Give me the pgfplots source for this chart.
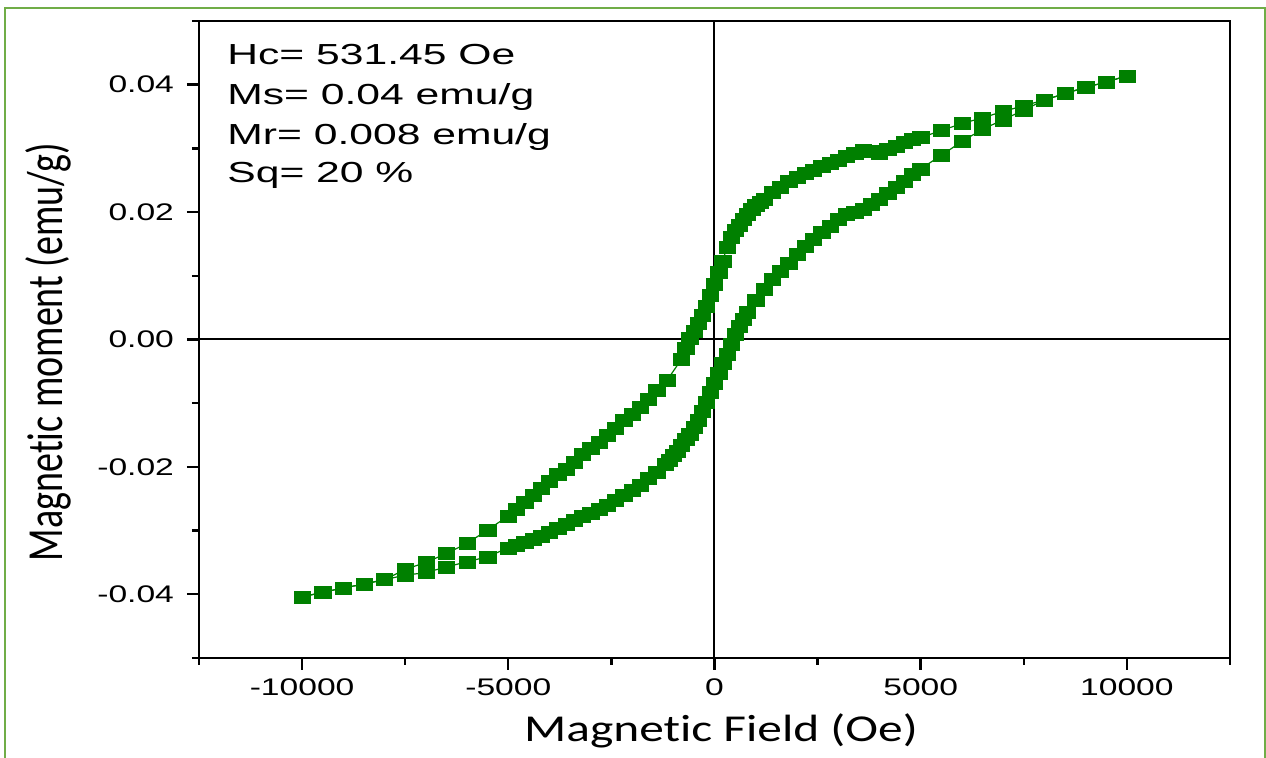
\documentclass[border=0pt]{standalone}
\usepackage{fontspec}
\setmainfont{Liberation Sans}
\newfontfamily\calibri[Ligatures={NoCommon}]{Carlito}
\usepackage{graphicx}
\usepackage{pgfplots}
\usepackage{pgfplotstable}
\pgfplotsset{compat=1.18}
\definecolor{mygreen}{RGB}{0,128,0}
\definecolor{framegreen}{RGB}{112,173,71}

\pgfplotstableread{
H M
10000 0.0414
9500 0.0404
9000 0.0396
8500 0.0386
8000 0.0376
7500 0.0367
7000 0.0358
6500 0.0348
6000 0.0339
5500 0.0328
5000 0.0317
4800 0.0314
4600 0.0309
4400 0.0303
4200 0.0298
4000 0.0293
3800 0.0295
3600 0.0297
3400 0.0293
3200 0.0288
3000 0.0282
2800 0.0277
2600 0.0272
2400 0.0266
2200 0.0261
2000 0.0255
1800 0.0248
1600 0.0239
1400 0.0231
1200 0.0221
1100 0.0216
1000 0.0211
900 0.0204
800 0.0197
700 0.0189
600 0.0180
500 0.0171
400 0.0160
300 0.0145
200 0.0123
100 0.0105
0 0.0087
-100 0.0069
-200 0.0052
-300 0.0038
-400 0.0026
-500 0.0013
-600 0.0002
-700 -0.0014
-800 -0.0031
-1150 -0.0064
-1400 -0.0080
-1600 -0.0093
-1800 -0.0106
-2000 -0.0117
-2200 -0.0127
-2400 -0.0139
-2600 -0.0151
-2800 -0.0162
-3000 -0.0171
-3200 -0.0180
-3400 -0.0192
-3600 -0.0203
-3800 -0.0212
-4000 -0.0222
-4200 -0.0233
-4400 -0.0244
-4600 -0.0255
-4800 -0.0266
-5000 -0.0277
-5500 -0.0299
-6000 -0.0320
-6500 -0.0336
-7000 -0.0350
-7500 -0.0361
-8000 -0.0377
-8500 -0.0384
-9000 -0.0390
-9500 -0.0397
-10000 -0.0404
}\upperbranch

\pgfplotstableread{
H M
-10000 -0.0404
-9500 -0.0397
-9000 -0.0390
-8500 -0.0384
-8000 -0.0377
-7500 -0.0370
-7000 -0.0366
-6500 -0.0357
-6000 -0.0349
-5500 -0.0341
-5000 -0.0327
-4800 -0.0323
-4600 -0.0319
-4400 -0.0314
-4200 -0.0309
-4000 -0.0303
-3800 -0.0296
-3600 -0.0290
-3400 -0.0284
-3200 -0.0278
-3000 -0.0272
-2800 -0.0266
-2600 -0.0260
-2400 -0.0252
-2200 -0.0245
-2000 -0.0236
-1800 -0.0228
-1600 -0.0218
-1400 -0.0208
-1200 -0.0196
-1100 -0.0189
-1000 -0.0182
-900 -0.0175
-800 -0.0166
-700 -0.0157
-600 -0.0148
-500 -0.0138
-400 -0.0126
-300 -0.0112
-200 -0.0098
-100 -0.0083
0 -0.0068
100 -0.0053
200 -0.0038
300 -0.0023
400 -0.0007
500 0.0008
600 0.0021
700 0.0032
800 0.0043
1000 0.0062
1200 0.0079
1400 0.0095
1600 0.0107
1800 0.0120
2000 0.0134
2200 0.0147
2400 0.0157
2600 0.0168
2800 0.0178
3000 0.0189
3200 0.0196
3400 0.0200
3600 0.0205
3800 0.0213
4000 0.0221
4200 0.0230
4400 0.0239
4600 0.0249
4800 0.0259
5000 0.0268
5500 0.0289
6000 0.0311
6500 0.0330
7000 0.0345
7500 0.0360
8000 0.0376
8500 0.0386
9000 0.0396
9500 0.0404
10000 0.0414
}\lowerbranch

\begin{document}
\begin{tikzpicture}
\useasboundingbox (-99.5pt,-50pt) rectangle (533.5pt,329pt);
\fill[white] (-99.5pt,-50pt) rectangle (533.5pt,329pt);
\draw[framegreen, line width=1pt] (-97pt,-60pt) -- (-97pt,325pt) -- (533pt,325pt) -- (533pt,-60pt);
\begin{axis}[
  at={(0,0)}, anchor=south west,
  scale only axis, width=515.5pt, height=318.5pt,
  xmin=-12500, xmax=12500, ymin=-0.05, ymax=0.05,
  scaled ticks=false,
  xtick={-10000,-5000,0,5000,10000},
  xticklabels={\scalebox{1.4}[1]{-10000},\scalebox{1.4}[1]{-5000},\scalebox{1.4}[1]{0},\scalebox{1.4}[1]{5000},\scalebox{1.4}[1]{10000}},
  ytick={-0.04,-0.02,0,0.02,0.04},
  yticklabels={\scalebox{1.4}[1]{-0.04},\scalebox{1.4}[1]{-0.02},\scalebox{1.4}[1]{0.00},\scalebox{1.4}[1]{0.02},\scalebox{1.4}[1]{0.04}},
  minor xtick={-12500,-7500,-2500,2500,7500,12500},
  minor ytick={-0.05,-0.03,-0.01,0.01,0.03,0.05},
  tick align=outside, tick pos=left,
  major tick length=6pt, minor tick length=3.5pt,
  axis line style={line width=1.2pt},
  every tick/.style={black, line width=1.2pt},
  tick label style={font=\fontsize{12}{14}\selectfont},
  yticklabel style={xshift=-3pt},
  xticklabel style={yshift=-1pt},
]
\draw[black, line width=1pt] (axis cs:0,-0.05) -- (axis cs:0,0.05);
\draw[black, line width=1pt] (axis cs:-12500,0) -- (axis cs:12500,0);
\addplot[mygreen, line width=0.6pt, mark=square*, mark size=3pt,
  mark options={xscale=1.35, fill=mygreen, draw=mygreen, line width=0.2pt}]
  table[x=H, y=M] {\upperbranch};
\addplot[mygreen, line width=0.6pt, mark=square*, mark size=3pt,
  mark options={xscale=1.35, fill=mygreen, draw=mygreen, line width=0.2pt}]
  table[x=H, y=M] {\lowerbranch};
\end{axis}
\begin{scope}[every node/.style={anchor=base west, inner sep=0pt, font=\fontsize{14.5}{17}\selectfont}]
\node at (14pt,296.5pt) {\scalebox{1.47}[1]{Hc= 531.45 Oe}};
\node at (14pt,276.5pt) {\scalebox{1.47}[1]{Ms= 0.04 emu/g}};
\node at (14pt,256.5pt) {\scalebox{1.47}[1]{Mr= 0.008 emu/g}};
\node at (14pt,237.5pt) {\scalebox{1.47}[1]{Sq= 20 \%}};
\end{scope}
\node[anchor=base, inner sep=0pt] at (261pt,-42pt) {\calibri\fontsize{19}{22}\selectfont\scalebox{1.3}[1]{Magnet\kern0pt ic Field (Oe)}};
\node[rotate=90, anchor=base, inner sep=0pt] at (-68pt,153pt) {\calibri\fontsize{19}{22}\selectfont\scalebox{1}[1.33]{Magnet\kern0pt ic moment (emu/g)}};
\end{tikzpicture}
\end{document}
